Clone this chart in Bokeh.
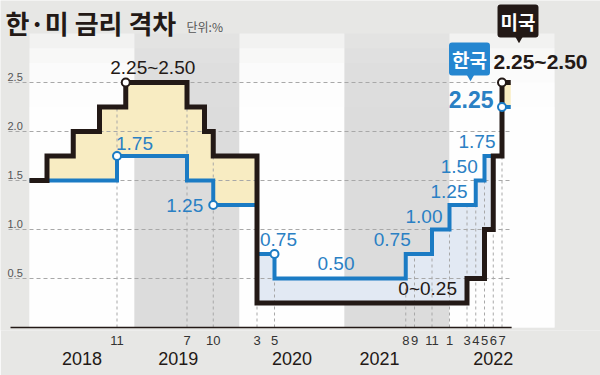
import numpy as np
from bokeh.plotting import figure
from bokeh.models import Range1d, LinearAxis, FixedTicker, Label
from bokeh.core.properties import value
from bokeh.embed import file_html
from bokeh.resources import INLINE

# ---------------- data ----------------
# US federal funds target range, by month of change
us_dates = ["2018-01", "2018-03", "2018-06", "2018-09", "2018-12", "2019-07", "2019-09",
            "2019-10", "2020-03", "2022-03", "2022-05", "2022-06", "2022-07"]
us_upper = [1.50, 1.75, 2.00, 2.25, 2.50, 2.25, 2.00, 1.75, 0.25, 0.50, 1.00, 1.75, 2.50]
us_lower = [1.25, 1.50, 1.75, 2.00, 2.25, 2.00, 1.75, 1.50, 0.00, 0.25, 0.75, 1.50, 2.25]
# Korea base rate, by month of change
kr_dates = ["2018-01", "2018-11", "2019-07", "2019-10", "2020-03", "2020-05", "2021-08",
            "2021-11", "2022-01", "2022-04", "2022-05", "2022-07"]
kr_rate = [1.50, 1.75, 1.50, 1.25, 0.75, 0.50, 0.75, 1.00, 1.25, 1.50, 1.75, 2.25]
end_date = "2022-08"

tick_dates = ["2018-11", "2019-07", "2019-10", "2020-03", "2020-05", "2021-08", "2021-09",
              "2021-11", "2022-01", "2022-03", "2022-04", "2022-05", "2022-06", "2022-07"]
tick_labels = ["11", "7", "10", "3", "5", "8", "9", "11", "1", "3", "4", "5", "6", "7"]
years = ["2018", "2019", "2020", "2021", "2022"]
year_label_months = [6, 17, 30, 40, 53]
y_ticks = [0.5, 1.0, 1.5, 2.0, 2.5]
y_tick_labels = ["0.5", "1.0", "1.5", "2.0", "2.5"]

# circled points
us_mark_dates = ["2018-12", "2022-07"]
us_mark_vals = [2.50, 2.50]
kr_mark_dates = ["2018-11", "2019-10", "2020-05", "2022-07"]
kr_mark_vals = [1.75, 1.25, 0.75, 2.25]

# ---------------- layout constants ----------------
W, H = 600, 375
PPM = 8.75          # px per month
PPU = 98.0          # px per percentage point
ORIGIN_PX = 29.0    # px of Jan 2018
FRAME_H = 330
X0 = -ORIGIN_PX / PPM
X1 = X0 + W / PPM
Y0 = -3 / PPU
Y1 = Y0 + FRAME_H / PPU

BG = "#e7e7e5"
BAND_GRAY = "#dcdcdb"
BLACK = "#231916"
BLUE = "#1b7bc4"
BLUE_TXT = "#2a80c4"
YELLOW = "#f8ecc2"
PALE_BLUE = "#e2e9f3"
GRID = "#a8a8a8"
NUM = "Liberation Sans"
NUM_FONT = value(NUM)
KR_FONT = "Noto Sans CJK KR"


def mi(s):
    y, m = s.split("-")
    return (int(y) - 2018) * 12 + int(m) - 1


def nudge(m, v, dx, dy):
    """shift a data point by screen pixels (dy positive = down)"""
    return m + dx / PPM, v - dy / PPU


def page(px, py):
    """canvas pixel -> data coords (for page-level texts)"""
    return X0 + px / PPM, Y1 - py / PPU


us_m = [mi(d) for d in us_dates]
kr_m = [mi(d) for d in kr_dates]
end_m = mi(end_date)


def level(ms, vs, t):
    idx = max(i for i, m in enumerate(ms) if m <= t)
    return vs[idx]


grid_m = sorted(set(us_m) | set(kr_m) | {end_m})
us_g = [level(us_m, us_upper, t) for t in grid_m]
kr_g = [level(kr_m, kr_rate, t) for t in grid_m]
xs, us_s, kr_s = [], [], []
for i in range(len(grid_m) - 1):
    xs += [grid_m[i], grid_m[i + 1]]
    us_s += [us_g[i]] * 2
    kr_s += [kr_g[i]] * 2
us_s = np.array(us_s)
kr_s = np.array(kr_s)
top_s = np.maximum(us_s, kr_s)

p = figure(width=W, height=H, x_range=Range1d(X0, X1), y_range=Range1d(Y0, Y1),
           output_backend="svg", toolbar_location=None, x_axis_type=None, y_axis_type=None,
           min_border=0, min_border_bottom=H - FRAME_H,
           background_fill_color=BG, border_fill_color=BG, outline_line_color=None)
p.xgrid.visible = False
p.ygrid.visible = False

# year bands (soft fade towards the top)
starts = [mi(y + "-01") for y in years]
for k, s in enumerate(starts):
    col = "white" if k % 2 == 0 else BAND_GRAY
    alpha = 0.45 if k % 2 == 0 else 0.3
    for t in [3.0, 2.85, 2.7, 2.5, 2.25]:
        p.quad(left=s, right=s + 12, bottom=0, top=t, fill_color=col,
               fill_alpha=alpha, line_color=None)

# gap fills
p.varea(x=xs, y1=kr_s, y2=top_s, fill_color=YELLOW)
p.varea(x=xs, y1=us_s, y2=top_s, fill_color=PALE_BLUE)

# grid lines
tick_m = [mi(d) for d in tick_dates]
vtop = [max(level(us_m, us_upper, t), level(kr_m, kr_rate, t)) for t in tick_m]
p.segment(x0=tick_m, y0=[0] * len(tick_m), x1=tick_m, y1=vtop, line_color=GRID,
          line_width=1, line_dash="3 3")
p.segment(x0=[X0 + 8 / PPM] * len(y_ticks), y0=y_ticks, x1=[end_m] * len(y_ticks), y1=y_ticks,
          line_color=GRID, line_width=1, line_dash="4 3")
# axis line
p.segment(x0=[X0 + 10 / PPM], y0=[0], x1=[end_m + 0.1], y1=[0], line_color=BLACK, line_width=1.5)

# series
p.step(x=kr_m + [end_m], y=kr_rate + [kr_rate[-1]], mode="after", line_color=BLUE,
       line_width=4, line_join="miter")
p.step(x=us_m + [end_m], y=us_upper + [us_upper[-1]], mode="after", line_color=BLACK,
       line_width=5, line_join="miter")

p.scatter(x=[mi(d) for d in kr_mark_dates], y=kr_mark_vals, size=8, fill_color="white",
          line_color=BLUE, line_width=2)
p.scatter(x=[mi(d) for d in us_mark_dates], y=us_mark_vals, size=8, fill_color="white",
          line_color=BLACK, line_width=2)

# y tick labels
p.text(x=[X0 + 7 / PPM] * len(y_ticks), y=[v + 2 / PPU for v in y_ticks], text=y_tick_labels,
       text_font=NUM_FONT, text_font_size="11px", text_color="#555555",
       text_align="left", text_baseline="bottom")


def fmt(v):
    return "0" if v == 0 else f"{v:.2f}"


def rng(i):
    return f"{fmt(us_lower[i])}~{fmt(us_upper[i])}"


def add_text(x, y, txt, color, size, align, baseline, bold=False):
    p.text(x=[x], y=[y], text=[txt], text_font=NUM_FONT, text_font_size=size,
           text_color=color, text_align=align, text_baseline=baseline,
           text_font_style="bold" if bold else "normal")


# US labels
i = us_dates.index("2018-12")
add_text(*nudge(us_m[i], us_upper[i], 27, -5), rng(i), BLACK, "19px", "center", "bottom")
i = us_dates.index("2022-03")
add_text(*nudge(us_m[i], us_upper[i - 1], -10, -4), rng(i - 1), BLACK, "19px", "right", "bottom")

# Korea labels: (date, dx, dy, align, baseline)
kr_label_specs = [
    ("2018-11", -1, -6, "left", "bottom"),
    ("2019-10", -10, 0, "right", "middle"),
    ("2020-03", 3, -8.5, "left", "bottom"),
    ("2020-05", 43, -9, "left", "bottom"),
    ("2021-08", 5, -8, "right", "bottom"),
    ("2021-11", 10.5, -7, "right", "bottom"),
    ("2022-01", 18, -7, "right", "bottom"),
    ("2022-04", 2, -7.5, "right", "bottom"),
    ("2022-05", 11, -8, "right", "bottom"),
]
for d, dx, dy, al, bl in kr_label_specs:
    j = kr_dates.index(d)
    add_text(*nudge(kr_m[j], kr_rate[j], dx, dy), fmt(kr_rate[j]), BLUE_TXT, "19px", al, bl)

# latest values
jk = len(kr_rate) - 1
iu = len(us_upper) - 1
add_text(*nudge(kr_m[jk], kr_rate[jk], -8.5, -7.5), fmt(kr_rate[jk]), BLUE_TXT, "23px",
         "right", "middle", bold=True)
add_text(*nudge(us_m[iu], us_upper[iu], -8.5, -21.5), rng(iu), BLACK, "21px",
         "left", "middle", bold=True)

# callouts
for (mx, vy, dx, dy, txt, col) in [(kr_m[jk], kr_rate[jk], -32.5, -48, "한국", "#2586d0"),
                                   (us_m[iu], us_upper[iu], 16, -61.5, "미국", BLACK)]:
    lx, ly = nudge(mx, vy, dx, dy)
    p.add_layout(Label(x=lx, y=ly, text=txt, text_font=KR_FONT, text_font_style="bold",
                       text_font_size="19px", text_color="white", text_align="center",
                       text_baseline="middle", background_fill_color=col,
                       border_radius=3, padding=3))
    tx, ty = nudge(mx, vy, dx + 1, dy + 17)
    p.scatter(x=[tx], y=[ty], marker="inverted_triangle", size=9, fill_color=col,
              line_color=None)

# title
tx, ty = page(5, 22)
p.text(x=[tx], y=[ty], text=["한·미 금리 격차"], text_font=value(KR_FONT), text_font_style="bold",
       text_font_size="26px", text_color=BLACK, text_align="left", text_baseline="middle")
tx, ty = page(186, 26)
p.text(x=[tx], y=[ty], text=["단위:%"], text_font=value(KR_FONT), text_font_size="12px",
       text_color="#555555", text_align="left", text_baseline="middle")

# x axes
month_axis = LinearAxis(ticker=FixedTicker(ticks=tick_m),
                        major_label_overrides={m: l for m, l in zip(tick_m, tick_labels)},
                        axis_line_color=None, major_tick_line_color=None,
                        minor_tick_line_color=None, major_label_standoff=-1,
                        major_label_text_font=NUM,
                        major_label_text_font_size="13px", major_label_text_color="#333333")
year_axis = LinearAxis(ticker=FixedTicker(ticks=year_label_months),
                       major_label_overrides={m: l for m, l in zip(year_label_months, years)},
                       axis_line_color=None, major_tick_line_color=None,
                       minor_tick_line_color=None, major_label_standoff=-2,
                       major_label_text_font=NUM,
                       major_label_text_font_size="18px", major_label_text_color=BLACK)
p.add_layout(month_axis, "below")
p.add_layout(year_axis, "below")

open("out.html", "w").write(file_html(p, INLINE))
